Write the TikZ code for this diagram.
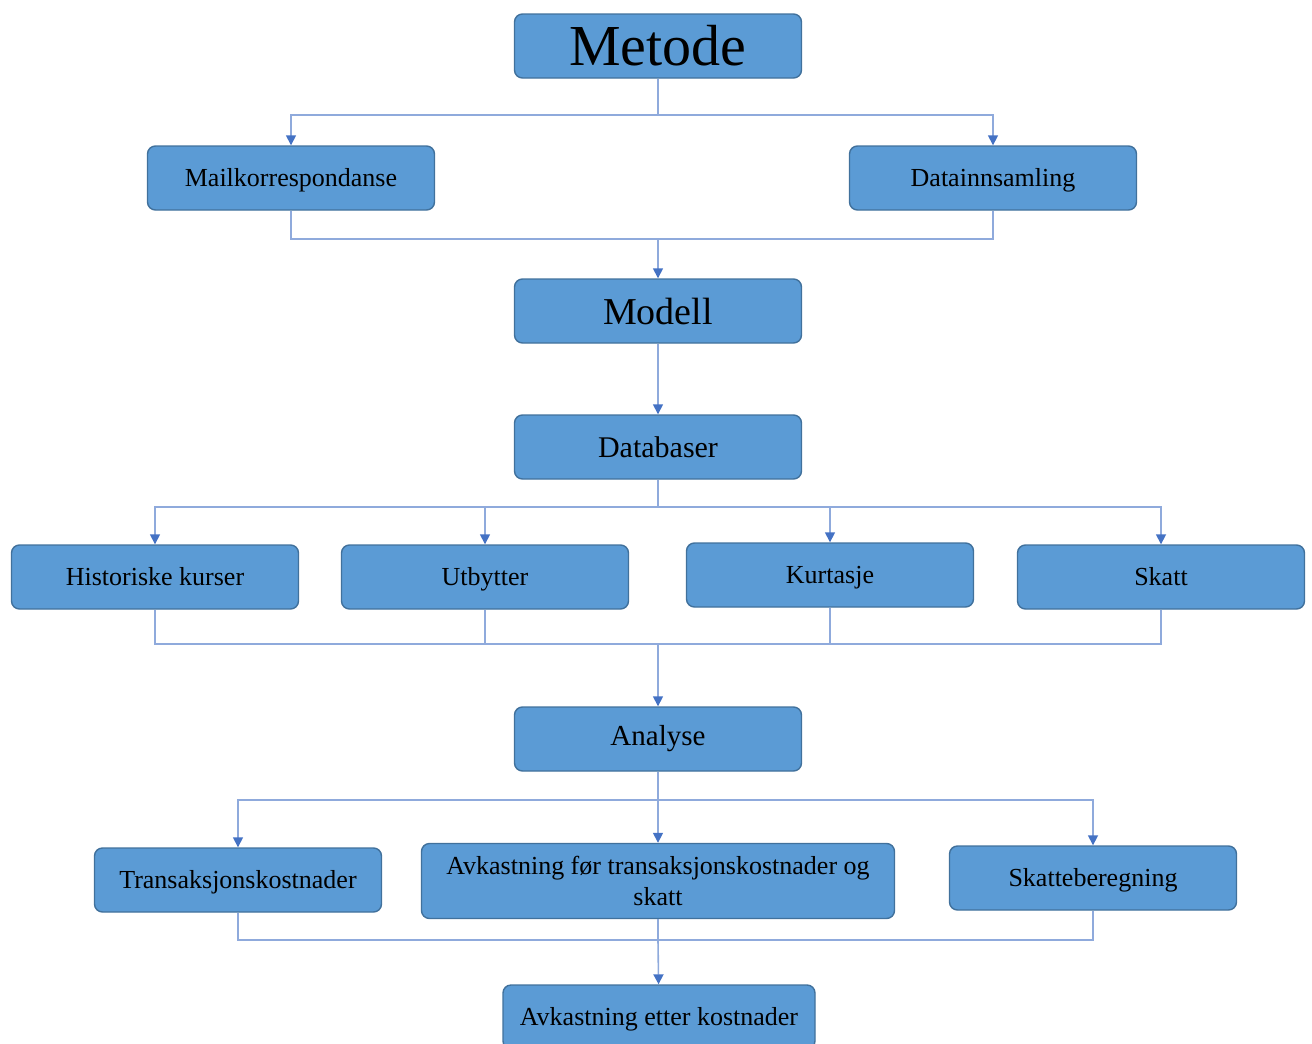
\documentclass[tikz,border=0pt]{standalone}
\usepackage{fontspec}
\setmainfont{Liberation Serif}
\usetikzlibrary{arrows.meta}
\definecolor{boxblue}{HTML}{5B9BD5}
\definecolor{boxedge}{HTML}{41719C}
\definecolor{linkblue}{HTML}{8FAADC}
\definecolor{tipblue}{HTML}{4472C4}
\begin{document}
\begin{tikzpicture}[x=0.5pt,y=-0.5pt,
  box/.style={draw=boxedge, fill=boxblue, line width=0.7pt, rounded corners=4pt,
    minimum width=143.5pt, minimum height=32pt, inner sep=0pt, align=center,
    font=\fontsize{13}{15.5}\selectfont},
  onebox/.style={box, text height=9.4pt, text depth=1pt},
  link/.style={draw=linkblue, line width=0.8pt},
  arr/.style={link, -{Triangle[length=5pt,width=5pt,color=tipblue]}}]
  \useasboundingbox (0,0) rectangle (1312,1044);
  % main steps
  \node[box, font=\fontsize{29}{32}\selectfont] (metode) at (658,46) {Metode};
  \node[box, font=\fontsize{19}{22}\selectfont] (modell) at (658,311) {Modell};
  \node[box, font=\fontsize{15}{18}\selectfont] (databaser) at (658,447) {Databaser};
  \node[box, font=\fontsize{14.5}{17}\selectfont] (analyse) at (658,739) {Analyse};
  % sub steps
  \node[onebox] (mail) at (291,178) {Mailkorrespondanse};
  \node[onebox] (data) at (993,178) {Datainnsamling};
  \foreach \n/\x/\y/\t in {
    kurser/155/577/Historiske kurser,
    utbytter/485/577/Utbytter,
    kurtasje/830/575/Kurtasje,
    skatt/1161/577/Skatt} {
    \node[onebox] (\n) at (\x,\y) {\t};
  }
  \node[onebox] (transkost) at (238,880) {Transaksjonskostnader};
  \node[box, minimum width=236.5pt, minimum height=37.5pt] (avkfor) at (658,881)
    {Avkastning før transaksjonskostnader og\\skatt};
  \node[onebox] (skatteber) at (1093,878) {Skatteberegning};
  \node[onebox, minimum width=156pt] (avketter) at (659,1017) {Avkastning etter kostnader};
  % split and merge points
  \coordinate (split1) at (658,115);
  \coordinate (merge1) at (658,239);
  \coordinate (split2) at (658,507);
  \coordinate (merge2) at (658,644);
  \coordinate (split3) at (658,800);
  \coordinate (merge3) at (658,940);
  % Metode -> Modell
  \draw[link] (metode) -- (split1);
  \foreach \n in {mail,data}
    \draw[arr] (split1) -| (\n);
  \foreach \n in {mail,data}
    \draw[link] (\n) |- (merge1);
  \draw[arr] (merge1) -- (modell);
  \draw[arr] (modell) -- (databaser);
  % Databaser -> Analyse
  \draw[link] (databaser) -- (split2);
  \foreach \n in {kurser,utbytter,kurtasje,skatt} {
    \draw[arr] (split2) -| (\n);
    \draw[link] (\n) |- (merge2);
  }
  \draw[arr] (merge2) -- (analyse);
  % Analyse -> Avkastning etter kostnader
  \draw[link] (analyse) -- (split3);
  \foreach \n in {transkost,avkfor,skatteber} {
    \draw[arr] (split3) -| (\n);
    \draw[link] (\n) |- (merge3);
  }
  \draw[arr] (merge3) -- (avketter);
\end{tikzpicture}
\end{document}
